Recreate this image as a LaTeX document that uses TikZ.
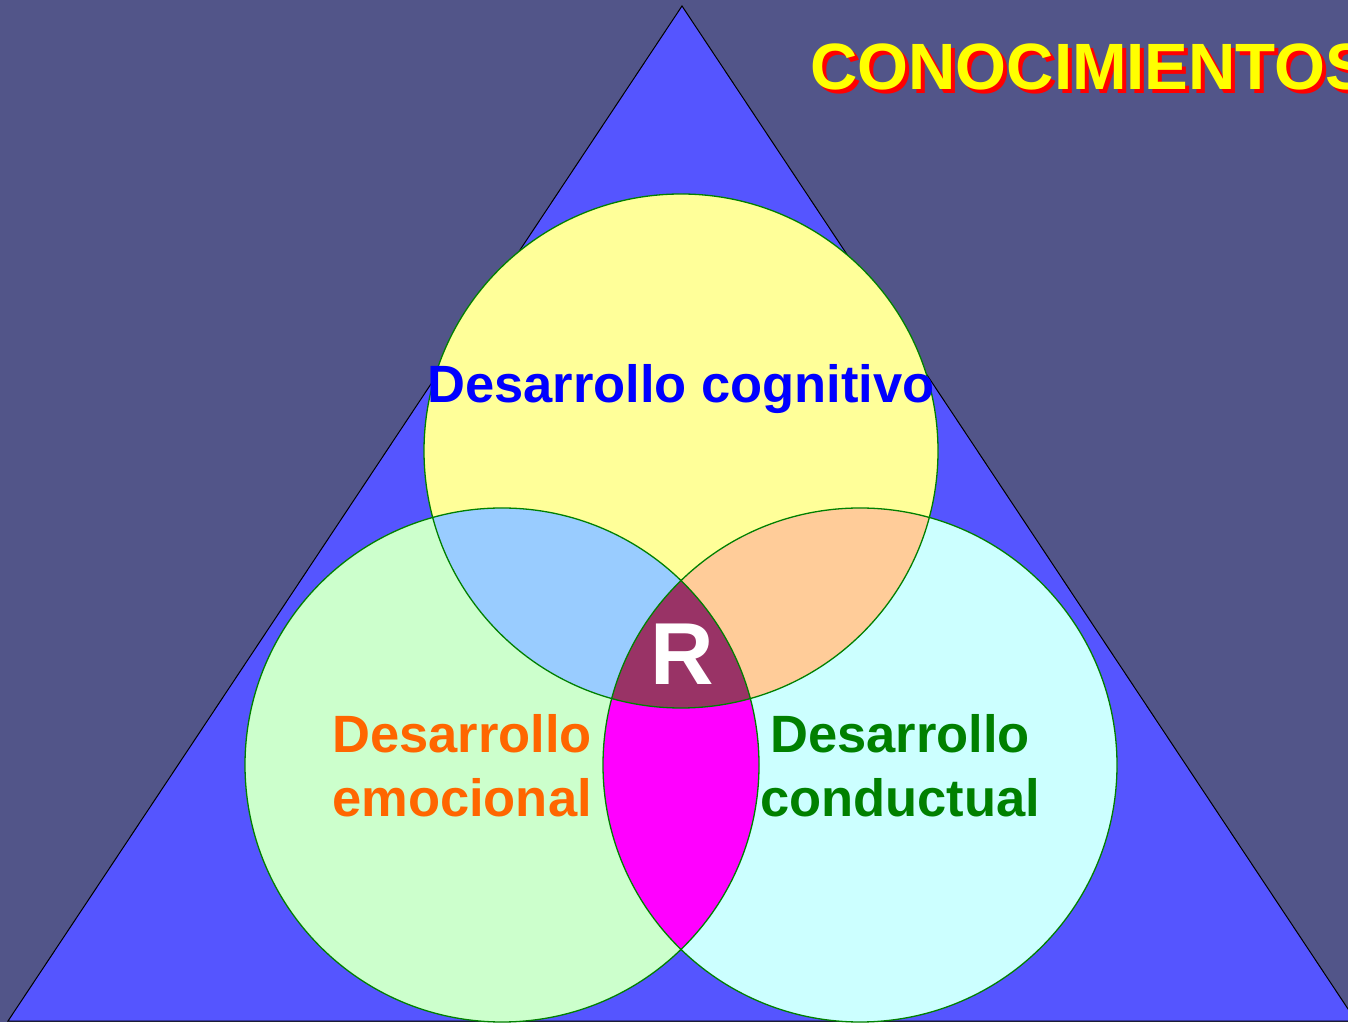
\documentclass[tikz,border=0pt]{standalone}
\usepackage{fontspec}
\setmainfont{Liberation Sans}

\definecolor{fondo}{HTML}{525589}
\definecolor{triangulo}{HTML}{5555FF}
\definecolor{amarillo}{HTML}{FFFF99}
\definecolor{verdeclaro}{HTML}{CCFFCC}
\definecolor{cian}{HTML}{CCFFFF}
\definecolor{celeste}{HTML}{99CCFF}
\definecolor{durazno}{HTML}{FFCC99}
\definecolor{fucsia}{HTML}{FF00FF}
\definecolor{vino}{HTML}{993366}
\definecolor{borde}{HTML}{008000}
\definecolor{naranja}{HTML}{FF6600}
\definecolor{azul}{HTML}{0000FF}
\definecolor{amarillotit}{HTML}{FFFF00}
\definecolor{rojo}{HTML}{FF0000}

\tikzset{
  circulo/.style={draw=borde, line width=1.3pt},
  rotulo/.style={font=\bfseries\fontsize{52.5}{64}\selectfont, align=center, inner sep=0pt},
}

\begin{document}
\begin{tikzpicture}[x=1pt, y=1pt]
  % Fondo
  \fill[fondo] (0,0) rectangle (1348,1022);
  \useasboundingbox (0,0) rectangle (1348,1022);

  % Triangulo
  \draw[fill=triangulo, draw=black, line width=1pt] (8,1) -- (682,1016) -- (1356,1) -- cycle;

  % Centros
  \coordinate (cog) at (681,571);
  \coordinate (emo) at (502,257);
  \coordinate (con) at (860,257);

  % Circulos
  \fill[amarillo] (cog) circle [radius=257];
  \fill[verdeclaro] (emo) circle [radius=257];
  \fill[cian] (con) circle [radius=257];

  % Intersecciones
  \begin{scope}
    \clip (cog) circle [radius=257];
    \fill[celeste] (emo) circle [radius=257];
    \fill[durazno] (con) circle [radius=257];
  \end{scope}
  \begin{scope}
    \clip (emo) circle [radius=257];
    \fill[fucsia] (con) circle [radius=257];
  \end{scope}
  \begin{scope}
    \clip (cog) circle [radius=257];
    \clip (emo) circle [radius=257];
    \fill[vino] (con) circle [radius=257];
  \end{scope}

  % Bordes
  \draw[circulo] (cog) circle [radius=257];
  \draw[circulo] (emo) circle [radius=257];
  \draw[circulo] (con) circle [radius=257];

  % Textos
  \node[rotulo, text=azul, anchor=base] (cognitivo) at (681,619) {Desarrollo cognitivo};
  \node[rotulo, text=naranja] (emocional) at (462,256) {Desarrollo\\emocional};
  \node[rotulo, text=borde] (conductual) at (900,256) {Desarrollo\\conductual};
  \node[font=\bfseries\fontsize{88}{100}\selectfont, text=white, anchor=base, inner sep=0pt] (centro) at (682,337) {R};

  % Titulo
  \node[font=\bfseries\fontsize{65.5}{78}\selectfont, text=rojo, anchor=base west, inner sep=0pt] (sombra) at (814,928) {CONOCIMIENTOS};
  \node[font=\bfseries\fontsize{65.5}{78}\selectfont, text=amarillotit, anchor=base west, inner sep=0pt] (titulo) at (810,932) {CONOCIMIENTOS};
\end{tikzpicture}
\end{document}
